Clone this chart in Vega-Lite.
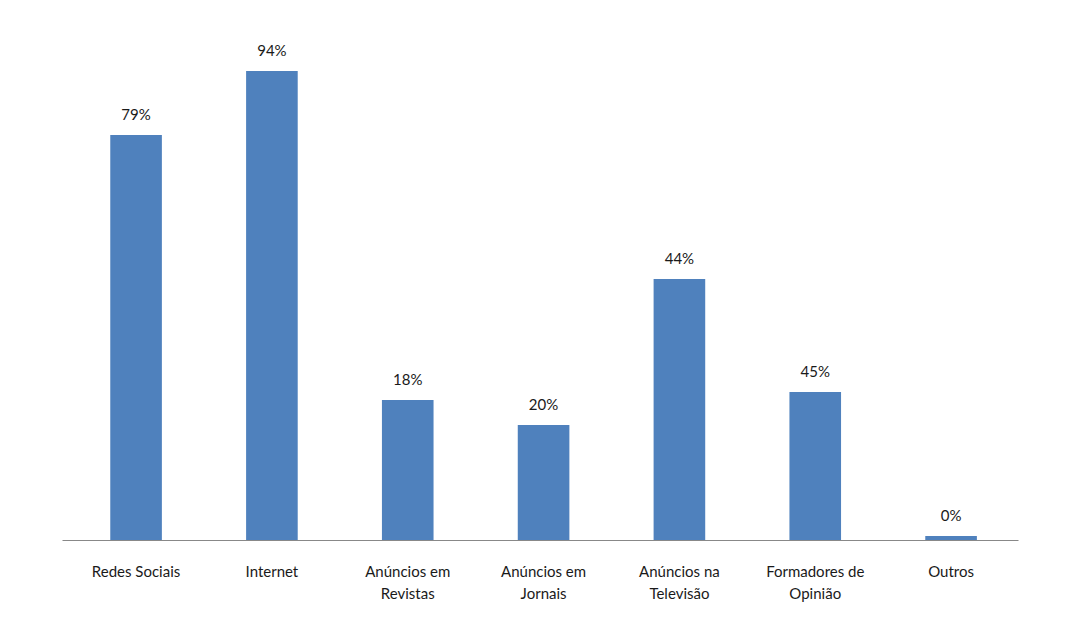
{
  "$schema": "https://vega.github.io/schema/vega-lite/v6.json",
  "autosize": "none",
  "width": 956,
  "height": 500,
  "padding": {"left": 62, "top": 40, "right": 47, "bottom": 86},
  "background": "white",
  "config": {"view": {"stroke": null}, "font": "Lato"},
  "data": {
    "values": [
      {"categoria": "Redes Sociais", "valor": 81.0, "rotulo": "79%"},
      {"categoria": "Internet", "valor": 93.8, "rotulo": "94%"},
      {"categoria": "Anúncios em|Revistas", "valor": 28.0, "rotulo": "18%"},
      {"categoria": "Anúncios em|Jornais", "valor": 23.0, "rotulo": "20%"},
      {"categoria": "Anúncios na|Televisão", "valor": 52.2, "rotulo": "44%"},
      {"categoria": "Formadores de|Opinião", "valor": 29.6, "rotulo": "45%"},
      {"categoria": "Outros", "valor": 0.8, "rotulo": "0%"}
    ]
  },
  "encoding": {
    "x": {
      "field": "categoria",
      "type": "nominal",
      "sort": null,
      "scale": {"paddingInner": 0.62, "paddingOuter": 0.329, "align": 0.54},
      "axis": {
        "title": null,
        "labelAngle": 0,
        "labelExpr": "split(datum.value, '|')",
        "labelFont": "Lato",
        "labelFontSize": 15,
        "labelColor": "#1a1a1a",
        "labelPadding": 24,
        "labelLineHeight": 22,
        "labelBaseline": "top",
        "ticks": false,
        "domainColor": "#888888",
        "domainWidth": 1.2
      }
    },
    "y": {
      "field": "valor",
      "type": "quantitative",
      "scale": {"domain": [0, 100]},
      "axis": null
    }
  },
  "layer": [
    {"mark": {"type": "bar", "color": "#4f81bd"}},
    {
      "mark": {"type": "text", "dy": -20, "font": "Lato", "fontSize": 15, "color": "#1a1a1a"},
      "encoding": {"text": {"field": "rotulo"}}
    }
  ]
}
